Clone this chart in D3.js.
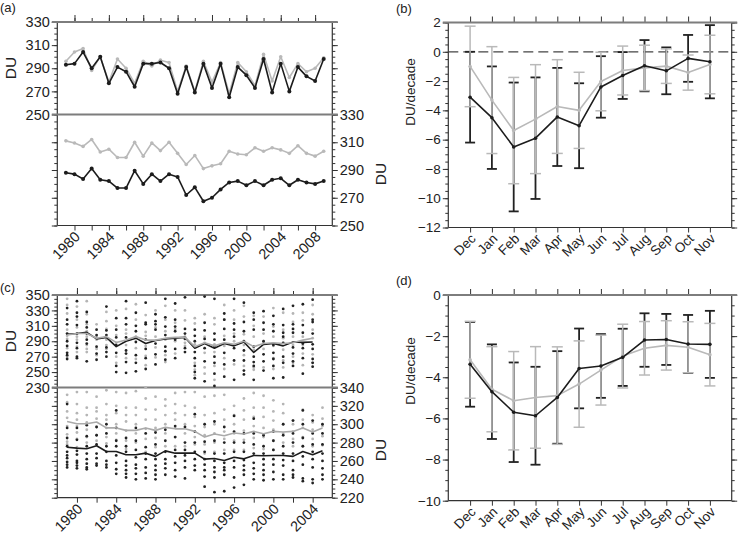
<!DOCTYPE html>
<html><head><meta charset="utf-8">
<script src="https://cdn.jsdelivr.net/npm/d3@7"></script>
<style>
body{margin:0;background:#fff}
svg text{font-family:"Liberation Sans",Arial,Helvetica,sans-serif;fill:#222}
</style>
</head><body>
<svg id="c" width="739" height="538"></svg>
<script>
// ---------------- DATA ----------------
const yearsA = [1979,1980,1981,1982,1983,1984,1985,1986,1987,1988,1989,1990,1991,1992,1993,1994,1995,1996,1997,1998,1999,2000,2001,2002,2003,2004,2005,2006,2007,2008,2009];
const aTopBlack = [293,294,304,290,300,277,291,287,274,294,294,295,290,268,291,269,294,273,294,265,291,284,273,298,269,294,270,291,283,279,298];
const aTopGray  = [296,304,307,288,300,278,298,290,277,296,292,297,295,270,292,270,296,278,295,268,295,287,275,302,279,300,282,294,287,290,299];
const aBotBlack = [288,287,283.5,291,283,282,277,277,289.5,280,287,282,287,285,272,277.5,267.5,270,276,281,282,279,282,279,283,284,279,283,281,280,282];
const aBotGray  = [311,309.5,307,312,303,305,299,299,310,300,309.5,304,310,302,294,300.5,291,293,294.5,303.5,301.5,301,306,303.5,306,304.5,302,307.5,302,300,303.5];
const aYearTicks = [1980,1984,1988,1992,1996,2000,2004,2008];
const aDUTicks = [250,270,290,310,330];

const months = ["Dec","Jan","Feb","Mar","Apr","May","Jun","Jul","Aug","Sep","Oct","Nov"];
const bBlack    = [-3.1,-4.5,-6.5,-5.9,-4.45,-5.05,-2.4,-1.62,-0.95,-1.3,-0.45,-0.68];
const bBlackErr = [3.1,3.5,4.4,4.15,3.35,2.9,2.1,1.6,1.75,1.6,1.6,2.5];
const bGray     = [-1.0,-3.3,-5.38,-4.6,-3.74,-4.0,-2.03,-1.28,-1.1,-0.98,-1.42,-0.87];
const bGrayErr  = [2.75,3.65,3.63,3.72,3.2,2.6,2.0,1.67,1.55,1.18,1.2,2.0];
const bTicks = [2,0,-2,-4,-6,-8,-10,-12];

const yearsCTop = [1979,1980,1981,1982,1983,1984,1985,1986,1987,1988,1989,1990,1991,1992,1993,1994,1995,1996,1997,1998,1999,2000,2001,2002,2003,2004];
const yearsCBot = [1979,1980,1981,1982,1983,1984,1985,1986,1987,1988,1989,1990,1991,1992,1993,1994,1995,1996,1997,1998,1999,2000,2001,2002,2003,2004,2005];
const cTopBlackMean = [299,300,301.5,293,295,283,290,294,287,291,293,294,295,281,287,281,287,284,289,275.5,286,287,284,289,288.5,289];
const cTopGrayMean  = [298,300,300,294,296,288.5,291.5,296,291.5,291.5,294,295,295,283,288,284,288,286,290,283,287,288,287,288,291.5,294];
const cBotBlackMean = [275,274,273.3,276.5,270.3,270.3,266.7,266.7,268.5,265,271,268.5,268.5,268.5,262,262.7,260.5,264,262.3,266,265.6,266,266,265,270.3,266.7,271];
const cBotGrayMean  = [303,300.6,300.6,302.4,296,296,293.3,293.3,296,293.3,296.6,295,295,292.2,286,289.3,287.5,290.4,289.3,292.2,289.7,292.2,291.5,292.2,296,291.5,296];
const cTopBlackDots = [
 [333,318,312,300,290,284,275,272,267],[342,327,322,311,300,288,281,270,268],[328,315,308,300,292,287,264],
 [305,298,283,274,266],[335,304,298,282,276,270],[320,305,295,285,275,258,250],[342,320,312,295,278,274,263,249],
 [327,310,303,289,272,262,251],[340,314,312,292,280,268,254],[325,316,312,305,287,273,260],[345,321,309,298,283,277,266],
 [339,318,309,303,292,280,268],[347,306,300,293,281,276],[305,297,290,276,268,258,250,242],[348,314,304,293,281,264,238],
 [345,300,292,283,270,262,248,232],[326,318,306,292,275,260,244],[345,313,305,296,281,265,240],[340,315,303,290,278,265,252,247],
 [327,318,305,283,270,263,258,240],[329,314,305,290,273,264,252],[323,312,303,285,275,267,258,242],[332,311,301,296,288,270,262,243],
 [336,312,306,301,282,274,264,258],[338,311,301,287,281,268,248],[344,318,315,300,286,280,267,262,257]];
const cTopGrayDots = [
 [345,337,326,305,297,293,281,270],[335,318,308,296,292,283,276],[342,325,312,303,296,285,280,276],[312,296,292,280,272],
 [328,316,306,292,285,280],[330,310,298,288,270,262],[332,305,300,285,268],[338,318,296,281,267],[324,302,297,284,271,259],
 [330,308,296,282,269],[336,318,303,292,272,263],[330,314,306,290,274],[330,317,296,288,284],[320,313,286,262,253,246],
 [325,296,288,275,256,248],[320,312,286,276,258,240],[337,318,297,284,268,254],[330,318,300,290,260],[336,322,299,285,272,258],
 [323,310,296,279,256,253],[322,300,288,280,256],[333,309,296,284,268,254],[327,305,294,279,265,256],[326,315,296,285,270,262],
 [327,317,296,285,274,259],[337,325,305,294,273,262]];
const cBotBlackDots = [
 [322,296,285,276,270,266,263,259,256,253],[296,283,271,267,260,258,255,252],[299,287,276,268,262,257,253,251],[297,288,278,268,263,257,255],
 [300,290,276,270,260,256,253],[315,296,282,276,266,258,251,246],[285,276,270,260,255,250,246,242],[296,282,272,264,256,252,246,240],
 [290,275,268,262,253,247,241],[291,278,268,262,255,250,245,240],[294,282,270,262,257,252,245],[298,286,272,265,258,250,243],
 [297,280,272,266,260,253,241],[311,292,280,270,262,255,250],[300,281,270,262,256,250,243,232],[303,282,268,260,253,248,242,226],
 [297,280,268,258,253,250,245,227],[309,292,280,270,260,253,242,231],[290,280,270,261,255,250,245,234],[306,290,278,268,258,252,246,240],
 [288,276,268,262,256,250,245,239],[292,282,272,262,256,248,240],[300,288,276,268,261,255,245,240],[304,290,280,268,260,250,245,242],
 [315,300,285,276,265,256,241,238],[304,290,278,270,262,253,240,236],[300,290,278,268,260,252,245,240]];
const cBotGrayDots = [
 [332,324,314,307,298,289,281,278],[335,322,312,305,298,291,284,275],[335,318,310,302,294,286,280],[330,318,314,306,297,288,282],
 [337,322,310,305,296,286,279],[335,320,312,300,290,283],[334,318,310,303,293,282,273],[336,318,310,300,290,280],
 [340,328,316,305,295,284,270],[330,316,305,296,285,275],[327,320,310,300,290,276],[334,322,312,305,296,286,276],
 [335,320,310,300,290,276],[335,318,308,298,286,278],[330,310,297,288,278,268],[331,312,300,290,280,270],
 [332,316,305,292,284,272],[320,310,300,290,282,272],[328,315,305,293,283,272],[334,318,308,298,285,274],
 [331,318,308,296,286,273],[326,314,304,294,282,272],[322,312,300,290,280],[304,300,292,284,276],
 [316,305,296,286,276],[310,302,294,284,276],[318,306,298,287,277]];
const cYearTicks = [1980,1984,1988,1992,1996,2000,2004];
const cTopTicks = [230,250,270,290,310,330,350];
const cBotTicks = [220,240,260,280,300,320,340];

const dBlack    = [-3.37,-4.7,-5.7,-5.87,-4.98,-3.57,-3.45,-3.03,-2.19,-2.16,-2.38,-2.4];
const dBlackErr = [2.06,2.3,2.42,2.38,2.25,1.94,1.55,1.39,1.3,1.24,1.41,1.63];
const dGray     = [-3.15,-4.58,-5.14,-4.98,-4.89,-4.33,-3.65,-2.97,-2.59,-2.45,-2.54,-2.9];
const dGrayErr  = [1.87,2.07,2.39,2.47,2.37,2.1,1.7,1.55,1.3,1.2,1.24,1.52];
const dTicks = [0,-2,-4,-6,-8,-10];

// ---------------- STYLE ----------------
const BLACK = "#1c1c1c", GRAY = "#b9b9b9", FRAME = "#333", TOPLINE = "#7d7d7d";
const FS_L = 14.5, FS_R = 13.5;
const svg = d3.select("#c");

function styleAxis(g, fs){
  g.attr("color", FRAME);
  g.select(".domain").remove();
  g.selectAll("text").attr("font-size", fs).attr("font-family", '"Liberation Sans",Arial,sans-serif').attr("fill","#222");
  g.selectAll("line").attr("stroke-width", 1);
}
function yAxis(scale, x, side, majors, minors, labeled, fs){
  const mk = side === "left" ? d3.axisLeft : d3.axisRight;
  svg.append("g").attr("transform", `translate(${x},0)`)
    .call(mk(scale).tickValues(minors).tickSize(3).tickFormat(""))
    .call(g => styleAxis(g, fs));
  svg.append("g").attr("transform", `translate(${x},0)`)
    .call(mk(scale).tickValues(majors).tickSize(5.5).tickPadding(2).tickFormat(labeled ? d3.format("d") : ""))
    .call(g => styleAxis(g, fs));
}
function frame(x0, x1, y0, y1){
  svg.append("line").attr("x1", x0).attr("x2", x0).attr("y1", y0).attr("y2", y1).attr("stroke", FRAME).attr("stroke-width", 1.2);
  svg.append("line").attr("x1", x1).attr("x2", x1).attr("y1", y0).attr("y2", y1).attr("stroke", FRAME).attr("stroke-width", 1.2);
  svg.append("line").attr("x1", x0).attr("x2", x1).attr("y1", y1).attr("y2", y1).attr("stroke", FRAME).attr("stroke-width", 1.2);
  svg.append("line").attr("x1", x0 - 5.5).attr("x2", x1 + 5.5).attr("y1", y0).attr("y2", y0).attr("stroke", TOPLINE).attr("stroke-width", 2);
}
function sepLine(x0, x1, y){
  svg.append("line").attr("x1", x0 - 5.5).attr("x2", x1 + 5.5).attr("y1", y).attr("y2", y).attr("stroke", TOPLINE).attr("stroke-width", 2);
}
function rotLabels(vals, xs, yb, fmt, fs){
  svg.append("g").selectAll("text").data(vals).join("text")
    .attr("transform", d => `translate(${xs(d) + 6.5},${yb + 12}) rotate(-45)`)
    .attr("text-anchor", "end").attr("font-size", fs).text(fmt);
}
function vlabel(txt, x, y, fs){
  svg.append("text").attr("transform", `translate(${x},${y}) rotate(-90)`)
    .attr("text-anchor", "middle").attr("font-size", fs).text(txt);
}
function series(data, xs, ys, xkey, color, r, sw){
  const pts = data.map((v, i) => [xs(xkey[i]), ys(v)]);
  svg.append("path").attr("d", d3.line()(pts)).attr("fill", "none").attr("stroke", color).attr("stroke-width", sw).attr("stroke-linejoin","round");
  if (r > 0) svg.append("g").selectAll("circle").data(pts).join("circle")
    .attr("cx", d => d[0]).attr("cy", d => d[1]).attr("r", r).attr("fill", color);
}
function errbars(vals, errs, xs, ys, color, sw, cap){
  const g = svg.append("g").attr("stroke", color).attr("stroke-width", sw);
  vals.forEach((v, i) => {
    const x = xs(i), yt = ys(v + errs[i]), yb = ys(v - errs[i]);
    g.append("line").attr("x1", x).attr("x2", x).attr("y1", yt).attr("y2", yb);
    g.append("line").attr("x1", x - cap).attr("x2", x + cap).attr("y1", yt).attr("y2", yt);
    g.append("line").attr("x1", x - cap).attr("x2", x + cap).attr("y1", yb).attr("y2", yb);
  });
}

// ---------------- PANEL A ----------------
{
  const x0 = 57.3, x1 = 332.3;
  const xA = d3.scaleLinear().domain([1978, 2010]).range([x0, x1]);
  const yT = d3.scaleLinear().domain([250, 330]).range([114.5, 22]);
  const yB = d3.scaleLinear().domain([250, 330]).range([225.5, 114.5]);
  const minors = d3.range(250, 331, 5);
  yAxis(yT, x0, "left", aDUTicks, minors, true, FS_L);
  yAxis(yB, x0, "left", aDUTicks.slice(0, 4), minors.slice(0, -1), false, FS_L);
  yAxis(yT, x1, "right", aDUTicks, minors, false, FS_L);
  yAxis(yB, x1, "right", aDUTicks, minors, true, FS_L);
  // x ticks
  svg.append("g").attr("transform", "translate(0,22)").call(d3.axisTop(xA).tickValues(d3.range(1980, 2010, 2)).tickSize(4).tickFormat("")).call(g => styleAxis(g, FS_L));
  svg.append("g").attr("transform", "translate(0,22)").call(d3.axisTop(xA).tickValues(aYearTicks).tickSize(7).tickFormat("")).call(g => styleAxis(g, FS_L));
  svg.append("g").attr("transform", "translate(0,225.5)").call(d3.axisBottom(xA).tickValues(d3.range(1980, 2010, 2)).tickSize(5).tickFormat("")).call(g => styleAxis(g, FS_L));
  rotLabels(aYearTicks, xA, 225.5, d => d, FS_L);
  frame(x0, x1, 22, 225.5);
  sepLine(x0, x1, 114.5);
  series(aTopGray, xA, yT, yearsA, GRAY, 1.8, 1.6);
  series(aTopBlack, xA, yT, yearsA, BLACK, 2, 1.6);
  series(aBotGray, xA, yB, yearsA, GRAY, 1.8, 1.6);
  series(aBotBlack, xA, yB, yearsA, BLACK, 2, 1.6);
  vlabel("DU", 16, 68, FS_L + 1);
  vlabel("DU", 386, 174, FS_L + 1);
  svg.append("text").attr("x", 0).attr("y", 12).attr("font-size", 13).text("(a)");
}

// ---------------- PANELS B & D ----------------
function monthPanel(y0, y1, domain, ticks, blk, blkE, gry, gryE, label, ylabY, dashed){
  const x0 = 448.3, x1 = 731.7;
  const xs = d3.scaleLinear().domain([-1, 12]).range([x0, x1]);
  const ys = d3.scaleLinear().domain(domain).range([y1, y0]);
  const minors = d3.range(domain[0], domain[1] + 0.01, 0.5);
  yAxis(ys, x0, "left", ticks, minors, true, FS_R);
  yAxis(ys, x1, "right", ticks, minors, false, FS_R);
  const idx = d3.range(0, 12);
  svg.append("g").attr("transform", `translate(0,${y0})`).call(d3.axisTop(xs).tickValues(idx).tickSize(6).tickFormat("")).call(g => styleAxis(g, FS_R));
  svg.append("g").attr("transform", `translate(0,${y1})`).call(d3.axisBottom(xs).tickValues(idx).tickSize(5).tickFormat("")).call(g => styleAxis(g, FS_R));
  rotLabels(idx, xs, y1, i => months[i], FS_R);
  frame(x0, x1, y0, y1);
  if (dashed) svg.append("line").attr("x1", x0).attr("x2", x1).attr("y1", ys(0)).attr("y2", ys(0))
    .attr("stroke", "#444").attr("stroke-width", 1.2).attr("stroke-dasharray", "10,5");
  errbars(blk, blkE, xs, ys, "#222", 1.8, 5);
  errbars(gry, gryE, xs, ys, GRAY, 1.5, 5.5);
  series(gry, xs, ys, idx, GRAY, 1.8, 1.6);
  series(blk, xs, ys, idx, BLACK, 1.8, 1.6);
  vlabel("DU/decade", 415, ylabY, FS_R);
  svg.append("text").attr("x", 396).attr("y", y0 - 10).attr("font-size", 13).text(label);
}
monthPanel(22.5, 227.5, [-12, 2], bTicks, bBlack, bBlackErr, bGray, bGrayErr, "(b)", 92, true);
monthPanel(295, 500.7, [-10, 0], dTicks, dBlack, dBlackErr, dGray, dGrayErr, "(d)", 371, false);

// ---------------- PANEL C ----------------
{
  const x0 = 57.3, x1 = 332.3;
  const xC = d3.scaleLinear().domain([1978, 2006]).range([x0, x1]);
  const yT = d3.scaleLinear().domain([230, 350]).range([387.5, 295]);
  const yB = d3.scaleLinear().domain([220, 340]).range([497.7, 387.5]);
  yAxis(yT, x0, "left", cTopTicks, d3.range(230, 351, 5), true, FS_L);
  yAxis(yB, x0, "left", cBotTicks.slice(0, -1), d3.range(220, 340, 5), false, FS_L);
  yAxis(yT, x1, "right", cTopTicks, d3.range(230, 351, 5), false, FS_L);
  yAxis(yB, x1, "right", cBotTicks, d3.range(220, 341, 5), true, FS_L);
  svg.append("g").attr("transform", "translate(0,295)").call(d3.axisTop(xC).tickValues(d3.range(1980, 2006, 2)).tickSize(4).tickFormat("")).call(g => styleAxis(g, FS_L));
  svg.append("g").attr("transform", "translate(0,295)").call(d3.axisTop(xC).tickValues(cYearTicks).tickSize(7).tickFormat("")).call(g => styleAxis(g, FS_L));
  svg.append("g").attr("transform", "translate(0,497.7)").call(d3.axisBottom(xC).tickValues(d3.range(1980, 2006, 2)).tickSize(5).tickFormat("")).call(g => styleAxis(g, FS_L));
  rotLabels(cYearTicks, xC, 497.7, d => d, FS_L);
  frame(x0, x1, 295, 497.7);
  sepLine(x0, x1, 387.5);
  function dots(arr, years, ys, color){
    const pts = [];
    arr.forEach((col, i) => col.forEach(v => pts.push([xC(years[i]), ys(v)])));
    svg.append("g").selectAll("circle").data(pts).join("circle")
      .attr("cx", d => d[0]).attr("cy", d => d[1]).attr("r", 1.4).attr("fill", color);
  }
  dots(cTopGrayDots, yearsCTop, yT, "#b5b5b5");
  dots(cTopBlackDots, yearsCTop, yT, "#222");
  dots(cBotGrayDots, yearsCBot, yB, "#b5b5b5");
  dots(cBotBlackDots, yearsCBot, yB, "#222");
  series(cTopBlackMean, xC, yT, yearsCTop, BLACK, 0, 1.6);
  series(cTopGrayMean, xC, yT, yearsCTop, "#aaa", 0, 1.6);
  series(cBotGrayMean, xC, yB, yearsCBot, "#aaa", 0, 1.6);
  series(cBotBlackMean, xC, yB, yearsCBot, BLACK, 0, 1.6);
  vlabel("DU", 16, 341, FS_L + 1);
  vlabel("DU", 386, 450, FS_L + 1);
  svg.append("text").attr("x", 0).attr("y", 292).attr("font-size", 13).text("(c)");
}
</script>
</body></html>
